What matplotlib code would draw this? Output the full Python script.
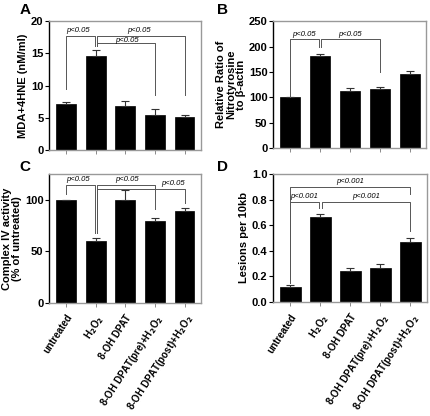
import matplotlib
matplotlib.use("Agg")
import matplotlib.pyplot as plt

plt.rcParams['font.family'] = ['Liberation Sans', 'DejaVu Sans']
plt.rcParams['font.weight'] = 'bold'
plt.rcParams['mathtext.default'] = 'bf'

groups = ['untreated', 'H$_2$O$_2$', '8-OH DPAT',
          '8-OH DPAT(pre)+H$_2$O$_2$', '8-OH DPAT(post)+H$_2$O$_2$']

# panel A: MDA+4HNE
mda = [7.1, 14.6, 6.9, 5.5, 5.2]
mda_err = [0.4, 0.9, 0.7, 0.9, 0.3]
# panel B: nitrotyrosine
nitro = [100, 182, 113, 117, 146]
nitro_err = [0, 4, 5, 4, 5]
# panel C: complex IV activity
cox = [100, 59.5, 100, 79, 89]
cox_err = [0, 3, 9, 3.5, 3]
# panel D: lesions
lesions = [0.12, 0.66, 0.245, 0.265, 0.47]
lesions_err = [0.015, 0.03, 0.02, 0.035, 0.03]

# brackets: (bar i, bar j, y of line, left leg end, right leg end, label x, label y, label)
br_a = [(0, 1, 17.7, 9.45, 16.2, 0.4, 18.6, 'p<0.05'),
        (1, 4, 17.7, 16.2, 8.6, 2.45, 18.6, 'p<0.05'),
        (1, 3, 16.55, 16.2, 8.6, 2.05, 17.05, 'p<0.05')]
br_b = [(0, 1, 214, 101, 199, 0.45, 224, 'p<0.05'),
        (1, 3, 214, 199, 150, 2.0, 224, 'p<0.05')]
br_c = [(0, 1, 114.6, 105.8, 68, 0.4, 120, 'p<0.05'),
        (1, 3, 114.6, 68, 91, 2.05, 120, 'p<0.05'),
        (1, 4, 110.7, 68, 97, 3.6, 115.5, 'p<0.05')]
br_d = [(0, 4, 0.896, 0.146, 0.84, 2.0, 0.94, 'p<0.001'),
        (0, 1, 0.784, 0.146, 0.73, 0.47, 0.825, 'p<0.001'),
        (1, 4, 0.784, 0.73, 0.557, 2.52, 0.825, 'p<0.001')]


def panel(ax, vals, errs, ylim, yticks, ylabel, brackets, xlabels, ticklabels=None):
    x = list(range(len(vals)))
    ax.bar(x, vals, width=0.67, color='black', edgecolor='black', linewidth=0.5)
    ax.errorbar(x, vals, yerr=[[0] * len(vals), errs], fmt='none', ecolor='#333333',
                elinewidth=0.8, capsize=3, capthick=0.8)
    ax.set_xlim(-0.58, 4.55)
    ax.set_ylim(*ylim)
    ax.set_yticks(yticks)
    if ticklabels:
        ax.set_yticklabels(ticklabels)
    for lab in ax.get_yticklabels():
        lab.set_fontweight('bold')
    ax.set_xticks(x)
    if xlabels:
        ax.set_xticklabels(groups, rotation=57, ha='right', rotation_mode='anchor',
                           fontsize=7, fontweight='bold')
    else:
        ax.set_xticklabels([])
    ax.tick_params(axis='y', labelsize=8, length=3, width=0.8, pad=1)
    ax.tick_params(axis='x', length=3, width=0.6, color='#777777', pad=4)
    for s in ['top', 'right', 'bottom']:
        ax.spines[s].set_color('#999999')
        ax.spines[s].set_linewidth(1.0)
    ax.spines['left'].set_color('black')
    ax.spines['left'].set_linewidth(1.0)
    ax.set_ylabel(ylabel, fontsize=8, labelpad=2, linespacing=1.0, fontweight='bold')
    for i, j, y, l1, l2, lx, ly, t in brackets:
        xi = i + (0.04 if i == 1 and j > 1 else 0)
        xj = j - (0.04 if j == 1 else 0)
        ax.plot([xi, xi, xj, xj], [l1, y, y, l2], color='#555555', lw=0.7)
        ax.text(lx, ly, t, fontsize=5.5, style='italic', fontweight='normal',
                ha='center', va='center')


fig = plt.figure(figsize=(4.3, 4.16), dpi=100)
ax_a = fig.add_axes([0.114, 0.639, 0.353, 0.310])
ax_b = fig.add_axes([0.635, 0.644, 0.356, 0.305])
ax_c = fig.add_axes([0.114, 0.272, 0.353, 0.310])
ax_d = fig.add_axes([0.635, 0.274, 0.358, 0.308])

panel(ax_a, mda, mda_err, (0, 20), [0, 5, 10, 15, 20], 'MDA+4HNE (nM/ml)', br_a, False)
panel(ax_b, nitro, nitro_err, (0, 250), [0, 50, 100, 150, 200, 250],
      'Relative Ratio of\nNitrotyrosine\nto β-actin', br_b, False)
panel(ax_c, cox, cox_err, (0, 125), [0, 50, 100],
      'Complex IV activity\n(% of untreated)', br_c, True)
panel(ax_d, lesions, lesions_err, (0, 1.0), [0, 0.2, 0.4, 0.6, 0.8, 1.0],
      'Lesions per 10kb', br_d, True,
      ticklabels=['0.0', '0.2', '0.4', '0.6', '0.8', '1.0'])

for lx, ly, letter in [(0.045, 0.976, 'A'), (0.505, 0.976, 'B'),
                       (0.045, 0.598, 'C'), (0.505, 0.598, 'D')]:
    fig.text(lx, ly, letter, fontsize=11, fontweight='bold', ha='left', va='center')

fig.savefig('out.png', dpi=100)
